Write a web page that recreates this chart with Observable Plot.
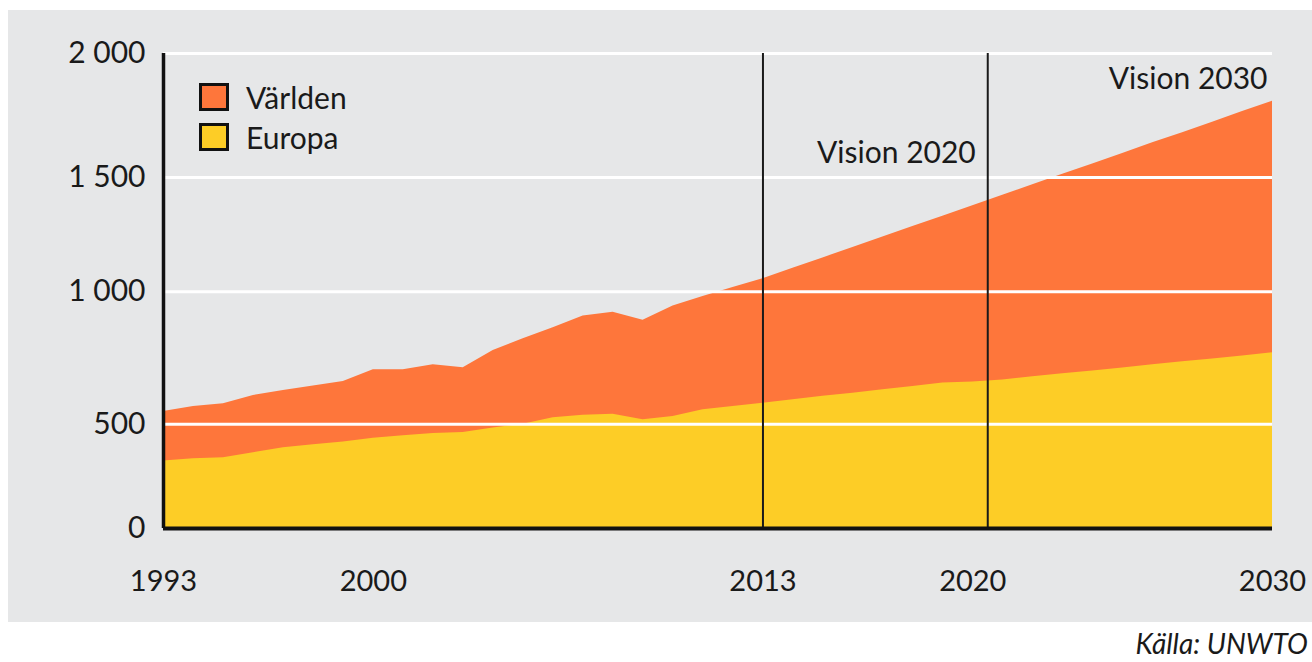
<!DOCTYPE html>
<html>
<head>
<meta charset="utf-8">
<script src="https://cdn.jsdelivr.net/npm/d3@7"></script>
<script src="https://cdn.jsdelivr.net/npm/@observablehq/plot@0.6"></script>
<style>
  html, body { margin: 0; padding: 0; background: #ffffff; }
  #wrap { position: relative; width: 1312px; height: 662px; font-family: Lato, "Open Sans", sans-serif; color: #1a1a1a; }
  #chart { position: absolute; left: 8px; top: 10px; }
  .legend { position: absolute; left: 199px; top: 77px; }
  .item { display: flex; align-items: center; height: 40px; font-size: 30px; }
  .sw { width: 24px; height: 22px; border: 3px solid #111; margin-right: 17px; }
  #source { position: absolute; right: 4px; top: 626px; font-style: italic; font-size: 28px; }
</style>
</head>
<body>
<div id="wrap">
  <div id="chart"></div>
  <div class="legend" id="legend"></div>
  <div id="source">Källa: UNWTO</div>
</div>
<script>
// ---- data (millions of international tourist arrivals) ----
const years = [1993, 1994, 1995, 1996, 1997, 1998, 1999, 2000, 2001, 2002, 2003, 2004, 2005, 2006, 2007, 2008, 2009, 2010, 2011, 2012, 2013,
               2014, 2015, 2016, 2017, 2018, 2019, 2020, 2021, 2022, 2023, 2024, 2025, 2026, 2027, 2028, 2029, 2030];
const world = [548, 567, 577, 608, 627, 644, 661, 705, 705, 724, 713, 778, 822, 864, 908, 922, 892, 946, 982, 1018, 1056,
               1102, 1148, 1193, 1239, 1285, 1331, 1377, 1422, 1468, 1513, 1555, 1597, 1640, 1681, 1723, 1766, 1808];
const europe = [323, 334, 339, 363, 387, 401, 414, 433, 444, 455, 460, 482, 499, 524, 534, 537, 517, 529, 554, 567, 579,
                592, 605, 617, 630, 642, 655, 659, 667, 679, 690, 701, 712, 724, 735, 746, 757, 769];
const seriesNames = ["Världen", "Europa"];
const seriesColors = ["#fe763b", "#fdcd26"];
const yTicks = [0, 500, 1000, 1500, 2000];
const gridValues = [500, 1000, 1500, 2000];
const xTicks = [1993, 2000, 2013, 2020, 2030];
const visionYears = [2013, 2020.5];
const visionLabels = ["Vision 2020", "Vision 2030"];
const visionLabelYears = [2020.5, 2030];
const visionLabelLevels = [1598, 1896];

const rows = years.map((year, i) => ({year, world: world[i], europe: europe[i]}));
const labelRows = visionLabels.map((text, i) => ({text, year: visionLabelYears[i], level: visionLabelLevels[i]}));

const fmt = d => d3.format(",")(d).replace(",", " ");

// the reference's value axis is unevenly spaced between its gridlines; reproduce it piecewise
const yWarp = d3.scaleLinear().domain(yTicks).range([0, 439.4, 997.3, 1477.6, 2000]);

const chart = Plot.plot({
  width: 1304,
  height: 612,
  marginLeft: 155,
  marginRight: 40,
  marginTop: 43,
  marginBottom: 94,
  style: {background: "#e6e7e8", fontFamily: "Lato, 'Open Sans', sans-serif", color: "#1a1a1a", overflow: "visible"},
  x: {domain: [1993, 2030]},
  y: {domain: [0, 2000], transform: yWarp, axis: null},
  marks: [
    Plot.areaY(rows, {x: "year", y1: 0, y2: "world", fill: seriesColors[0]}),
    Plot.areaY(rows, {x: "year", y1: 0, y2: "europe", fill: seriesColors[1]}),
    Plot.gridY(gridValues, {stroke: "#ffffff", strokeWidth: 3, strokeOpacity: 1}),
    Plot.ruleX(visionYears, {y1: 0, y2: 2000, stroke: "#1a1a1a", strokeWidth: 2}),
    Plot.ruleX([1993], {y1: 0, y2: 2000, stroke: "#111", strokeWidth: 3.5}),
    Plot.ruleY([0], {stroke: "#111", strokeWidth: 4}),
    Plot.text(labelRows.slice(0, 1), {x: "year", y: "level", text: "text", textAnchor: "end", dx: -12, fontSize: 30, fill: "#1a1a1a"}),
    Plot.text(labelRows.slice(1), {x: "year", y: "level", text: "text", textAnchor: "end", dx: -5, fontSize: 30, fill: "#1a1a1a"}),
    Plot.text(yTicks, {y: d => d, text: fmt, frameAnchor: "left", textAnchor: "end", dx: -18, fontSize: 30, fill: "#1a1a1a"}),
    Plot.axisX({ticks: xTicks, tickFormat: d => String(d), tickSize: 0, tickPadding: 42, fontSize: 29, label: null})
  ]
});
document.getElementById("chart").appendChild(chart);

const legend = document.getElementById("legend");
seriesNames.forEach((name, i) => {
  const item = document.createElement("div");
  item.className = "item";
  const sw = document.createElement("div");
  sw.className = "sw";
  sw.style.background = seriesColors[i];
  const label = document.createElement("span");
  label.textContent = name;
  item.appendChild(sw);
  item.appendChild(label);
  legend.appendChild(item);
});
</script>
</body>
</html>
